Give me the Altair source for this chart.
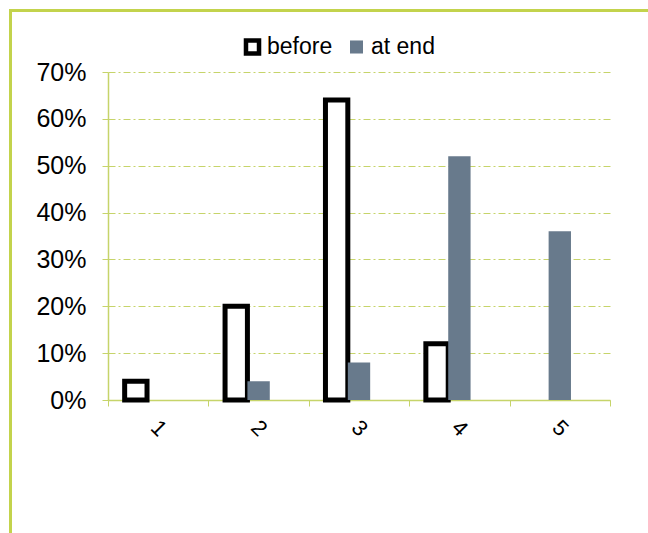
import altair as alt
import pandas as pd

categories = ["1", "2", "3", "4", "5"]
series_names = ["before", "at end"]
before = [0.04, 0.20, 0.64, 0.12, 0.0]
at_end = [0.0, 0.04, 0.08, 0.52, 0.36]
y_ticks = [0, 0.1, 0.2, 0.3, 0.4, 0.5, 0.6, 0.7]

LIME = "#c6d46a"
FRAME = "#c3d34c"
GRAY = "#687a8c"
FONT = "Liberation Sans"

rows = []
for c, b, a in zip(categories, before, at_end):
    if b > 0:
        rows.append({"cat": c, "series": "before", "value": b})
    if a > 0:
        rows.append({"cat": c, "series": "at end", "value": a})
df = pd.DataFrame(rows)

W, H = 502, 328
PAD_L, PAD_T = 108, 72

legend = alt.Legend(
    title=None, orient="none", direction="horizontal",
    legendX=133, legendY=-37,
    labelFontSize=23, labelFont=FONT, labelColor="black",
    symbolType="square", symbolSize=170, symbolStrokeWidth=4.5,
    columnPadding=7, labelOffset=3,
)

bars = alt.Chart(df).mark_bar().encode(
    x=alt.X("cat:N",
            scale=alt.Scale(domain=categories, paddingInner=0, paddingOuter=0),
            axis=alt.Axis(title=None, labelAngle=45, labelAlign="center",
                          labelBaseline="middle", labelFontSize=22, labelFont=FONT,
                          labelColor="black", labelPadding=22,
                          tickBand="extent", tickSize=6, tickColor=LIME,
                          domainColor=LIME, domainWidth=1.5, grid=False)),
    xOffset=alt.XOffset("series:N",
                        scale=alt.Scale(domain=["before", "at end", "_"],
                                        paddingInner=0, paddingOuter=0.745)),
    y=alt.Y("value:Q",
            scale=alt.Scale(domain=[0, 0.7], nice=False),
            axis=alt.Axis(title=None, format=".0%", values=y_ticks,
                          labelFontSize=25, labelFont=FONT, labelColor="black",
                          labelPadding=16, tickSize=6, tickColor=LIME,
                          domainColor=LIME, domainWidth=1.5,
                          grid=True, gridColor=LIME, gridDash=[7, 3, 2, 3],
                          gridWidth=1)),
    fill=alt.Fill("series:N",
                  scale=alt.Scale(domain=series_names, range=["white", GRAY]),
                  legend=legend),
    stroke=alt.Stroke("series:N",
                      scale=alt.Scale(domain=series_names,
                                      range=["black", "rgba(0,0,0,0)"]),
                      legend=legend),
    strokeWidth=alt.condition(alt.datum.series == "before", alt.value(5), alt.value(0)),
)

one = pd.DataFrame({"a": [0]})
frame_left = alt.Chart(one).mark_rule(color=FRAME, strokeWidth=3, strokeCap="square").encode(
    x=alt.value(10.5 - PAD_L), y=alt.value(10.5 - PAD_T), y2=alt.value(533 - PAD_T)
)
frame_top = alt.Chart(one).mark_rule(color=FRAME, strokeWidth=3, strokeCap="square").encode(
    x=alt.value(10.5 - PAD_L), x2=alt.value(648 - PAD_L), y=alt.value(10.5 - PAD_T)
)

chart = alt.layer(bars, frame_left, frame_top).properties(
    width=W, height=H,
    padding={"left": PAD_L, "top": PAD_T, "right": 648 - PAD_L - W, "bottom": 533 - PAD_T - H},
    autosize=alt.AutoSizeParams(type="none"),
    background="white",
).configure_view(stroke=None)

chart.save("out.html", embed_options={"renderer": "svg", "actions": False})
